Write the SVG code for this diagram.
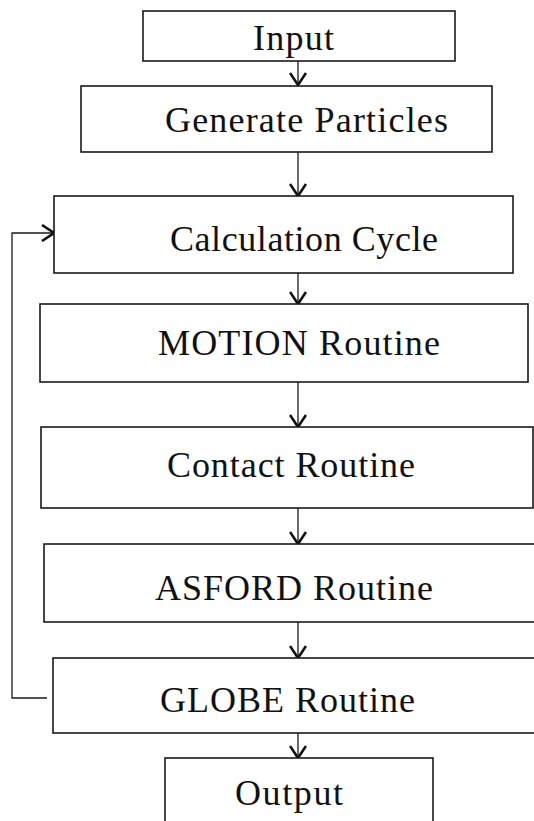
<svg xmlns="http://www.w3.org/2000/svg" width="534" height="821" viewBox="0 0 534 821">
<style>
.box{fill:#fff;stroke:#1a1a1a;stroke-width:1.6}
.lbl{font-family:"Liberation Serif","Times New Roman",serif;font-size:36px;fill:#111}
.con{fill:none;stroke:#1a1a1a;stroke-width:1.3}
</style>
<defs>
<marker id="arr" markerUnits="userSpaceOnUse" viewBox="0 0 14 18" refX="13" refY="9" markerWidth="14" markerHeight="18" orient="auto">
<path d="M1,1 L13,9 L1,17" fill="none" stroke="#111" stroke-width="2.6"/>
</marker>
</defs>
<rect width="534" height="821" fill="#fff"/>
<g id="connectors">
<line class="con" x1="298" y1="61" x2="298" y2="85" marker-end="url(#arr)"/>
<line class="con" x1="298" y1="152" x2="298" y2="196" marker-end="url(#arr)"/>
<line class="con" x1="298" y1="273" x2="298" y2="304" marker-end="url(#arr)"/>
<line class="con" x1="298" y1="382" x2="298" y2="427" marker-end="url(#arr)"/>
<line class="con" x1="298" y1="508" x2="298" y2="544" marker-end="url(#arr)"/>
<line class="con" x1="298" y1="622" x2="298" y2="658" marker-end="url(#arr)"/>
<line class="con" x1="298" y1="733" x2="298" y2="758" marker-end="url(#arr)"/>
<polyline class="con" points="47,698 12,698 12,233 54,233" marker-end="url(#arr)"/>
</g>
<g id="input"><rect class="box" x="143" y="11" width="312" height="50"/><text class="lbl" x="253" y="50" textLength="81" lengthAdjust="spacing">Input</text></g>
<g id="generate"><rect class="box" x="81" y="86" width="411" height="66"/><text class="lbl" x="165" y="132" textLength="283" lengthAdjust="spacing">Generate Particles</text></g>
<g id="calc"><rect class="box" x="54" y="196" width="459" height="77"/><text class="lbl" x="170" y="251" textLength="268" lengthAdjust="spacing">Calculation Cycle</text></g>
<g id="motion"><rect class="box" x="40" y="304" width="488" height="78"/><text class="lbl" x="158" y="355" textLength="282" lengthAdjust="spacing">MOTION Routine</text></g>
<g id="contact"><rect class="box" x="41" y="427" width="492" height="81"/><text class="lbl" x="167" y="477" textLength="248" lengthAdjust="spacing">Contact Routine</text></g>
<g id="asford"><rect class="box" x="44" y="544" width="500" height="78"/><text class="lbl" x="155" y="600" textLength="278" lengthAdjust="spacing">ASFORD Routine</text></g>
<g id="globe"><rect class="box" x="53" y="658" width="490" height="75"/><text class="lbl" x="160" y="712" textLength="255" lengthAdjust="spacing">GLOBE Routine</text></g>
<g id="output"><rect class="box" x="165" y="758" width="268" height="80"/><text class="lbl" x="235" y="805" textLength="108" lengthAdjust="spacing">Output</text></g>
</svg>
